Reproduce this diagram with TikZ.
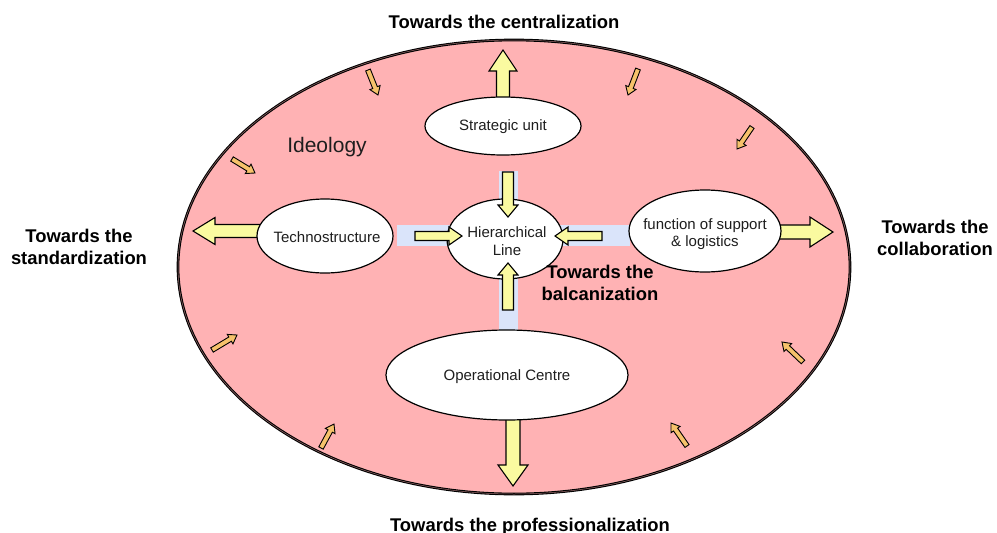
\documentclass[tikz,border=0pt]{standalone}
\usepackage{fontspec}
\setmainfont{Liberation Sans}
\usetikzlibrary{calc,shapes.geometric}
\pgfdeclarelayer{back}\pgfdeclarelayer{mid}\pgfdeclarelayer{front}
\pgfsetlayers{back,mid,main,front}
\definecolor{pinkfill}{RGB}{255,178,180}
\definecolor{bandblue}{RGB}{218,228,250}
\definecolor{yelfill}{RGB}{250,250,160}
\definecolor{orfill}{RGB}{246,194,107}
\definecolor{txt}{RGB}{30,30,30}
\tikzset{
 orgshape/.style={ellipse, draw=black, line width=1.2pt, fill=white, inner sep=0pt},
 orgtext/.style={text=txt, font=\fontsize{15}{17.5}\selectfont, align=center, inner sep=0pt},
 towardstext/.style={font=\bfseries\fontsize{18.4}{21.5}\selectfont, align=center, text=black, inner sep=0pt},
 bigarrow/.style={draw=black, line width=1.1pt, fill=yelfill, line join=miter},
 smallarrow/.style={draw=black, line width=0.9pt, fill=orfill, line join=miter},
}
% style, start, tip, shaft half width, head half width, head length
\newcommand{\blkarrow}[6]{%
 \path #2 coordinate (baA);
 \path #3 coordinate (baB);
 \path ($(baB)!#6!(baA)$) coordinate (baH);
 \draw[#1] ($(baA)!#4!90:(baB)$) -- ($(baH)!#4!-90:(baA)$) -- ($(baH)!#5!-90:(baA)$) -- (baB) -- ($(baH)!#5!90:(baA)$) -- ($(baH)!#4!90:(baA)$) -- ($(baA)!#4!-90:(baB)$) -- cycle;
}
\begin{document}
\begin{tikzpicture}[x=1pt,y=-1pt]
\useasboundingbox (0,0) rectangle (997,533);
\begin{pgfonlayer}{back}
\node[ellipse, draw=black, line width=1.1pt, double=pinkfill!60!black, double distance=0.5pt, fill=pinkfill, minimum width=672, minimum height=454, inner sep=0pt] (org) at (514,267) {};
\fill[bandblue] (397,225) rectangle (630,246);
\fill[bandblue] (499,171) rectangle (518,330);
\end{pgfonlayer}

% units
\node[orgshape, minimum width=156, minimum height=58] (su) at (503,126) {};
\node[orgshape, minimum width=136, minimum height=74] (tech) at (325,236) {};
\node[orgshape, minimum width=116, minimum height=80] (hl) at (505,239) {};
\node[orgshape, minimum width=152, minimum height=82] (fsl) at (705,231) {};
\node[orgshape, minimum width=242, minimum height=90] (opc) at (507,375) {};

\node[orgtext] (su-t) at ($(su)+(0,1)$) {Strategic unit};
\node[orgtext] (tech-t) at ($(tech)+(2,1)$) {Technostructure};
\node[orgtext] (hl-t) at ($(hl)+(2,2)$) {Hierarchical\\Line};
\node[orgtext] (fsl-t) at ($(fsl)+(0,3)$) {function of support\\\& logistics};
\node[orgtext] (opc-t) at ($(opc)+(0,2)$) {Operational Centre};

\node[font=\fontsize{21}{24}\selectfont, text=txt, anchor=base, inner sep=0pt] (ideo) at (327,152) {Ideology};

% outer arrows
\begin{pgfonlayer}{mid}
\blkarrow{bigarrow}{($(su.north)+(0,8)$)}{(503,50)}{6.5pt}{14pt}{21pt}
\blkarrow{bigarrow}{(266,231)}{(193,231)}{6.5pt}{13.5pt}{22pt}
\blkarrow{bigarrow}{(772,232)}{(833,232)}{7pt}{15pt}{23pt}
\blkarrow{bigarrow}{($(opc.south)+(6,-8)$)}{(513,486)}{7pt}{15pt}{21pt}
\end{pgfonlayer}

\begin{pgfonlayer}{front}
% inner arrows
\blkarrow{bigarrow}{(508,172)}{(508,217)}{5.5pt}{10pt}{12pt}
\blkarrow{bigarrow}{(508,310)}{(508,263)}{5.5pt}{10pt}{12pt}
\blkarrow{bigarrow}{(415,236)}{(462,236)}{4.5pt}{9pt}{13pt}
\blkarrow{bigarrow}{(602,236)}{(555,236)}{4.5pt}{9pt}{13pt}
% small arrows
\blkarrow{smallarrow}{(368,70)}{(378,95)}{2.5pt}{5.5pt}{8pt}
\blkarrow{smallarrow}{(232,159)}{(255,173)}{2.5pt}{5.5pt}{8pt}
\blkarrow{smallarrow}{(638,69)}{(628,95)}{2.5pt}{5.5pt}{8pt}
\blkarrow{smallarrow}{(752,127)}{(737,149)}{2.5pt}{5.5pt}{8pt}
\blkarrow{smallarrow}{(803,362)}{(782,342)}{2.5pt}{5.5pt}{8pt}
\blkarrow{smallarrow}{(212,350)}{(237,335)}{2.5pt}{5.5pt}{8pt}
\blkarrow{smallarrow}{(321,448)}{(334,424)}{2.5pt}{5.5pt}{8pt}
\blkarrow{smallarrow}{(687,446)}{(671,423)}{2.5pt}{5.5pt}{8pt}
\end{pgfonlayer}

% labels
\node[towardstext, anchor=base] (tcen) at (504,28) {Towards the centralization};
\node[towardstext] (tstd) at (79,247) {Towards the\\standardization};
\node[towardstext] (tcol) at (935,238) {Towards the\\collaboration};
\node[towardstext] (tbal) at (600,283) {Towards the\\balcanization};
\node[towardstext, anchor=base] (tpro) at (530,531) {Towards the professionalization};
\end{tikzpicture}
\end{document}
